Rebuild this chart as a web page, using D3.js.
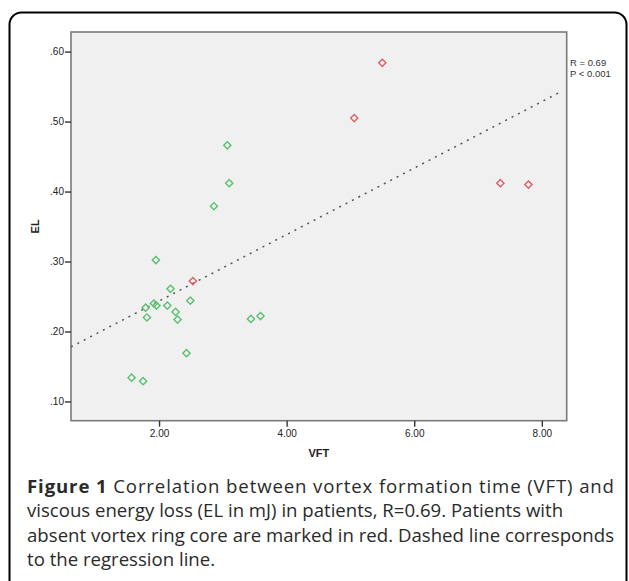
<!DOCTYPE html>
<html>
<head>
<meta charset="utf-8">
<script src="https://cdn.jsdelivr.net/npm/d3@7"></script>
<style>
  body { margin: 0; background: #fff; }
  svg { display: block; }
</style>
</head>
<body>
<div id="chart"></div>
<script>
// patients with vortex ring core (green)
var vftCore = [3.07, 3.10, 2.86, 1.95, 2.18, 1.79, 1.92, 1.96, 2.13, 2.49, 2.26, 1.81, 2.29, 3.44, 3.59, 2.43, 1.57, 1.75]
var elCore  = [0.466, 0.412, 0.379, 0.302, 0.261, 0.234, 0.240, 0.237, 0.237, 0.244, 0.228, 0.220, 0.217, 0.218, 0.222, 0.169, 0.134, 0.129]
// patients with absent vortex ring core (red)
var vftAbsent = [5.50, 5.06, 7.35, 7.79, 2.53]
var elAbsent  = [0.584, 0.505, 0.412, 0.410, 0.272]

var xTicks = [2, 4, 6, 8]
var yTicks = [0.1, 0.2, 0.3, 0.4, 0.5, 0.6]
var fitIntercept = 0.1485
var fitSlope     = 0.0475
var statLines = ['R = 0.69', 'P < 0.001']
var captionLines = [
  {bold: 'Figure 1', text: ' Correlation between vortex formation time (VFT) and', justify: true},
  {bold: '', text: 'viscous energy loss (EL in mJ) in patients, R=0.69. Patients with', justify: false},
  {bold: '', text: 'absent vortex ring core are marked in red. Dashed line corresponds', justify: true},
  {bold: '', text: 'to the regression line.', justify: false}
]

var W = 629, H = 581
var plot = {left: 71, top: 32, right: 566.7, bottom: 420.7}

var svg = d3.select('#chart').append('svg').attr('width', W).attr('height', H)

// outer frame
svg.append('rect')
  .attr('x', 9.5).attr('y', 12.5).attr('width', 617).attr('height', 600)
  .attr('rx', 12).attr('ry', 12)
  .attr('fill', 'none').attr('stroke', '#000').attr('stroke-width', 2)

var x = d3.scaleLinear().domain([0.62, 8.39]).range([plot.left, plot.right])
var y = d3.scaleLinear().domain([0.0725, 0.628]).range([plot.bottom, plot.top])

svg.append('rect')
  .attr('x', plot.left).attr('y', plot.top)
  .attr('width', plot.right - plot.left).attr('height', plot.bottom - plot.top)
  .attr('fill', '#f0f0f0').attr('stroke', '#7a7a7a').attr('stroke-width', 1.6)

// axes
var xAxis = svg.append('g').attr('transform', 'translate(0,' + plot.bottom + ')')
  .call(d3.axisBottom(x).tickValues(xTicks).tickFormat(d3.format('.2f')).tickSize(6).tickSizeOuter(0))
var yAxis = svg.append('g').attr('transform', 'translate(' + plot.left + ',0)')
  .call(d3.axisLeft(y).tickValues(yTicks).tickFormat(function(d) { return d3.format('.2f')(d).replace(/^0/, '') }).tickSize(6).tickSizeOuter(0))

;[xAxis, yAxis].forEach(function(g) {
  g.select('.domain').remove()
  g.selectAll('.tick line').attr('stroke', '#333').attr('stroke-width', 1.4)
  g.selectAll('.tick text').attr('fill', '#222').style('font-family', 'Liberation Sans, Arial, sans-serif').style('font-size', '10px')
})
xAxis.selectAll('.tick text').attr('dy', '0.9em').attr('y', 7)
yAxis.selectAll('.tick text').attr('x', -7)

// axis titles
svg.append('text').attr('x', (plot.left + plot.right) / 2).attr('y', 457)
  .attr('text-anchor', 'middle').style('font-family', 'Liberation Sans, Arial, sans-serif')
  .style('font-size', '11px').style('font-weight', 'bold').attr('fill', '#222').text('VFT')
svg.append('text').attr('transform', 'translate(39,' + ((plot.top + plot.bottom) / 2) + ') rotate(-90)')
  .attr('text-anchor', 'middle').style('font-family', 'Liberation Sans, Arial, sans-serif')
  .style('font-size', '11px').style('font-weight', 'bold').attr('fill', '#222').text('EL')

// regression line
var fitX = x.domain()
svg.append('line')
  .attr('x1', x(fitX[0])).attr('y1', y(fitIntercept + fitSlope * fitX[0]))
  .attr('x2', x(8.32)).attr('y2', y(fitIntercept + fitSlope * 8.32))
  .attr('stroke', '#555').attr('stroke-width', 1.5).attr('stroke-dasharray', '2,5.2')

// markers
var diamond = d3.symbol().type(d3.symbolSquare).size(26)
function drawPoints(xs, ys, color) {
  svg.append('g').selectAll('path')
    .data(xs.map(function(v, i) { return [v, ys[i]] }))
    .join('path')
    .attr('d', diamond)
    .attr('transform', function(d) { return 'translate(' + x(d[0]) + ',' + y(d[1]) + ') rotate(45)' })
    .attr('fill', 'none').attr('stroke', color).attr('stroke-width', 1.4)
}
drawPoints(vftCore, elCore, '#5cc070')
drawPoints(vftAbsent, elAbsent, '#dc5f66')

// stats
svg.append('g').selectAll('text').data(statLines).join('text')
  .attr('x', 570).attr('y', function(d, i) { return 66 + i * 11 })
  .style('font-family', 'Liberation Sans, Arial, sans-serif').style('font-size', '9.5px')
  .attr('fill', '#333').text(function(d) { return d })

// caption
var capLeft = 27, capRight = 614
captionLines.forEach(function(line, i) {
  var t = svg.append('text').attr('x', capLeft).attr('y', 493 + i * 24.4)
    .style('font-family', 'Open Sans, sans-serif').style('font-size', '18.6px').attr('fill', '#2a2a2a')
  if (line.justify) t.attr('textLength', capRight - capLeft).attr('lengthAdjust', 'spacing')
  if (line.bold) t.append('tspan').style('font-weight', 'bold').text(line.bold)
  t.append('tspan').text(line.text)
})
</script>
</body>
</html>
